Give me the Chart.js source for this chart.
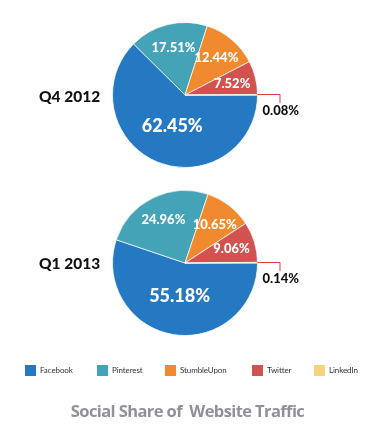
<!DOCTYPE html>
<html><head><meta charset="utf-8">
<script src="https://cdn.jsdelivr.net/npm/chart.js@4"></script>
<style>
html,body{margin:0;padding:0;background:#fff;width:375px;height:430px;overflow:hidden;}
body{position:relative;}
canvas{position:absolute;left:0;top:0;}
.q{position:absolute;left:39px;font-family:Lato,sans-serif;font-weight:900;font-size:15.5px;color:#111;line-height:20px;white-space:nowrap;}
#legend{position:absolute;left:0;top:364px;width:375px;height:14px;font-family:Lato,sans-serif;font-size:8px;color:#333;letter-spacing:-0.1px;}
#legend .it{position:absolute;top:0;display:flex;align-items:center;height:12px;white-space:nowrap;}
#legend .bx{width:11px;height:11px;margin-right:4px;}
#title{position:absolute;left:0;width:375px;top:399px;text-align:center;font-family:"Open Sans",sans-serif;font-weight:bold;font-size:16.5px;color:#8e9199;letter-spacing:-0.6px;white-space:pre;}
</style></head>
<body>
<canvas id="c1" width="375" height="430"></canvas>
<canvas id="c2" width="375" height="430"></canvas>
<div class="q" id="q1" style="top:86px"></div>
<div class="q" id="q2" style="top:253px"></div>
<div id="legend"></div>
<div id="title"></div>
<script>
const categories = ['Facebook', 'Pinterest', 'StumbleUpon', 'Twitter', 'LinkedIn'];
const periods = ['Q4 2012', 'Q1 2013'];
const valuesQ4_2012 = [62.45, 17.51, 12.44, 7.52, 0.08];
const valuesQ1_2013 = [55.18, 24.96, 10.65, 9.06, 0.14];
const chartTitle = 'Social Share of  Website Traffic';

const colors = ['#2479c2', '#44a3b6', '#f18a2f', '#d1524f', '#f8d37e'];
const legendX = [25, 97, 165, 252, 314];

const labelPlugin = {
  id: 'sliceLabels',
  afterDatasetsDraw(chart) {
    const ctx = chart.ctx;
    const ds = chart.data.datasets[0];
    const meta = chart.getDatasetMeta(0);
    meta.data.forEach((arc, i) => {
      const v = ds.data[i];
      const p = arc.getProps(['x', 'y', 'startAngle', 'endAngle', 'outerRadius']);
      const mid = (p.startAngle + p.endAngle) / 2;
      const sweep = p.endAngle - p.startAngle;
      const txt = v.toFixed(2) + '%';
      ctx.save();
      if (v < 1) {
        const ex = p.x + Math.cos(mid) * p.outerRadius;
        const ey = p.y + Math.sin(mid) * p.outerRadius;
        ctx.strokeStyle = '#d9403c';
        ctx.lineWidth = 1;
        ctx.beginPath();
        ctx.moveTo(ex, Math.round(ey) - 0.5);
        ctx.lineTo(ex + 22.5, Math.round(ey) - 0.5);
        ctx.lineTo(ex + 22.5, Math.round(ey) + 8);
        ctx.stroke();
        ctx.fillStyle = '#111';
        ctx.font = '900 13px Lato';
        ctx.textAlign = 'left';
        ctx.textBaseline = 'middle';
        ctx.fillText(txt, ex + 5, ey + 16);
      } else {
        const big = sweep > Math.PI;
        const f = big ? 0.46 : 0.67;
        const lx = p.x + Math.cos(mid) * p.outerRadius * f;
        const ly = p.y + Math.sin(mid) * p.outerRadius * f;
        ctx.fillStyle = '#ffffff';
        ctx.font = big ? '900 18px Lato' : '900 13px Lato';
        ctx.textAlign = 'center';
        ctx.textBaseline = 'middle';
        ctx.fillText(txt, lx, ly);
      }
      ctx.restore();
    });
  }
};

function makePie(id, values, padding) {
  return new Chart(document.getElementById(id), {
    type: 'pie',
    data: {
      labels: categories,
      datasets: [{ data: values, backgroundColor: colors, borderColor: 'rgba(255,255,255,0.7)', borderWidth: 1 }]
    },
    options: {
      responsive: false,
      animation: false,
      rotation: 90,
      layout: { padding: padding },
      plugins: { legend: { display: false }, tooltip: { enabled: false } }
    },
    plugins: [labelPlugin]
  });
}

makePie('c1', valuesQ4_2012, { left: 112, right: 117, top: 22, bottom: 262 });
makePie('c2', valuesQ1_2013, { left: 112, right: 117, top: 190, bottom: 94 });

document.getElementById('q1').textContent = periods[0];
document.getElementById('q2').textContent = periods[1];
document.getElementById('title').textContent = chartTitle;
const lg = document.getElementById('legend');
categories.forEach((c, i) => {
  const it = document.createElement('div'); it.className = 'it';
  it.style.left = legendX[i] + 'px';
  const b = document.createElement('div'); b.className = 'bx'; b.style.background = colors[i];
  const t = document.createElement('span'); t.textContent = c;
  it.appendChild(b); it.appendChild(t); lg.appendChild(it);
});
</script>
</body></html>
